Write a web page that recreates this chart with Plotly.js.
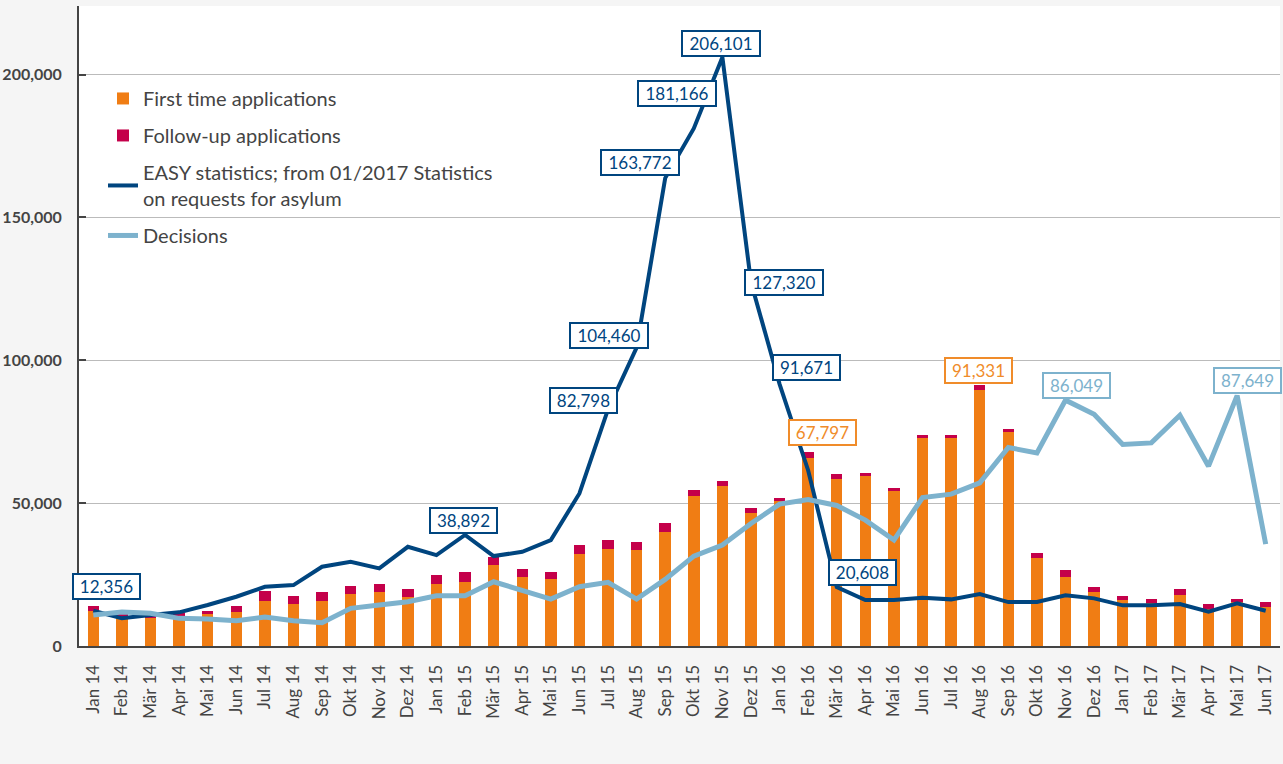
<!DOCTYPE html>
<html>
<head>
<meta charset="utf-8">
<script src="https://cdn.plot.ly/plotly-3.0.1.min.js"></script>
<style>
  html, body { margin: 0; padding: 0; background: #f5f5f5; }
  #chart { width: 1283px; height: 764px; }
</style>
</head>
<body>
<div id="chart"></div>
<script>
// ---- Data ----
const months = ["Jan 14","Feb 14","Mär 14","Apr 14","Mai 14","Jun 14","Jul 14","Aug 14","Sep 14","Okt 14","Nov 14","Dez 14",
  "Jan 15","Feb 15","Mär 15","Apr 15","Mai 15","Jun 15","Jul 15","Aug 15","Sep 15","Okt 15","Nov 15","Dez 15",
  "Jan 16","Feb 16","Mär 16","Apr 16","Mai 16","Jun 16","Jul 16","Aug 16","Sep 16","Okt 16","Nov 16","Dez 16",
  "Jan 17","Feb 17","Mär 17","Apr 17","Mai 17","Jun 17"];

const firstTime = [12300, 9900, 9800, 10250, 11080, 11780, 15840, 14690, 15840, 18180, 18770, 17130,
  21700, 22380, 28320, 24130, 23430, 32280, 34030, 33450, 39970, 52330, 55830, 46390,
  50580, 65900, 58390, 59440, 54200, 72970, 72970, 89600, 74830, 30660, 24230, 18990,
  16080, 15140, 17730, 13040, 15280, 13640];

const followUp = [1700, 1300, 1200, 1150, 1160, 2310, 3500, 2900, 2930, 2910, 2910, 2800,
  3000, 3490, 2900, 2900, 2440, 2920, 3030, 2910, 2930, 2330, 1750, 1750,
  1170, 1897, 1700, 1160, 1150, 1050, 1050, 1731, 1040, 1750, 2340, 1530,
  1510, 1400, 2310, 1650, 1260, 1750];

const easy = [12356, 9680, 10840, 11780, 14340, 17240, 20740, 21330, 27730, 29480, 27170, 34720,
  31820, 38892, 31470, 32970, 37060, 53390, 82798, 104460, 163772, 181166, 206101, 127320,
  91671, 61428, 20608, 16080, 16080, 16900, 16320, 18180, 15380, 15380, 17730, 16670,
  14220, 14220, 14690, 12000, 14920, 12350];

const decisions = [10840, 11890, 11430, 9680, 9440, 8850, 10140, 8850, 8150, 13180, 14340, 15490,
  17590, 17590, 22480, 19230, 16430, 20740, 22270, 16430, 23310, 31470, 35320, 42900,
  49650, 51280, 49180, 44060, 37060, 51980, 53150, 57100, 69470, 67590, 86049, 81120,
  70520, 71090, 80770, 62940, 87649, 35660];

// labelled points
const easyLabels = ["Jan 14","Feb 15","Jul 15","Aug 15","Sep 15","Okt 15","Nov 15","Dez 15","Jan 16","Mär 16"];
const totalLabels = ["Feb 16","Aug 16"];
const decisionLabels = ["Nov 16","Mai 17"];

// ---- Styles ----
const C_ORANGE = "#f07d14";
const C_RED = "#c4004a";
const C_DARK = "#00457f";
const C_LIGHT = "#7db2cd";
const C_LABEL_ORANGE = "#f08c2a";
const FONT = "Lato, 'Open Sans', sans-serif";

const traces = [
  { type: "bar", name: "First time applications", x: months, y: firstTime,
    marker: { color: C_ORANGE }, legendgroup: "a", hoverinfo: "skip" },
  { type: "bar", name: "Follow-up applications", x: months, y: followUp,
    marker: { color: C_RED }, legendgroup: "b", hoverinfo: "skip" },
  { type: "scatter", mode: "lines", name: "EASY statistics; from 01/2017 Statistics<br>on requests for asylum",
    x: months, y: easy, line: { color: C_DARK, width: 4 }, legendgroup: "c", hoverinfo: "skip" },
  { type: "scatter", mode: "lines", name: "Decisions", x: months, y: decisions,
    line: { color: C_LIGHT, width: 5 }, legendgroup: "d", hoverinfo: "skip" }
];

const fmt = v => Math.round(v).toLocaleString("en-US");

function makeLabel(month, value, color, off) {
  const txt = fmt(value);
  return {
    x: month, y: value, xref: "x", yref: "y",
    text: txt, showarrow: true, arrowcolor: "rgba(0,0,0,0)", arrowwidth: 0.1, arrowhead: 0,
    ax: off[0], ay: off[1],
    bgcolor: "#ffffff", bordercolor: color, borderwidth: 2, borderpad: 1,
    width: txt.length > 6 ? 74 : 63,
    font: { family: FONT, size: 17, color: color }
  };
}

// pixel offsets of label boxes from their points (styling only)
const easyOffsets = [[13,-24],[-2,-14],[-25,-9],[-28,-12],[-25,-16],[-17,-35],[-1,-14],[33,0],[27,-17],[26,-15]];
const totalOffsets = [[14,-20],[-1,-15]];
const decisionOffsets = [[11,-15],[10,-15]];

const annotations = [];
easyLabels.forEach((m, k) => {
  const i = months.indexOf(m);
  annotations.push(makeLabel(m, easy[i], C_DARK, easyOffsets[k]));
});
totalLabels.forEach((m, k) => {
  const i = months.indexOf(m);
  annotations.push(makeLabel(m, firstTime[i] + followUp[i], C_LABEL_ORANGE, totalOffsets[k]));
});
decisionLabels.forEach((m, k) => {
  const i = months.indexOf(m);
  annotations.push(makeLabel(m, decisions[i], C_LIGHT, decisionOffsets[k]));
});

const layout = {
  width: 1283, height: 764,
  paper_bgcolor: "#f5f5f5", plot_bgcolor: "#ffffff",
  margin: { l: 79, r: 3, t: 6, b: 118 },
  barmode: "stack", bargap: 0.6,
  showlegend: true,
  hovermode: false,
  font: { family: FONT, color: "#444" },
  legend: {
    x: 0.02, y: 0.886, xanchor: "left", yanchor: "top",
    bgcolor: "rgba(0,0,0,0)", traceorder: "grouped", tracegroupgap: 8,
    font: { family: FONT, size: 20, color: "#444" }
  },
  xaxis: {
    type: "category", range: [-0.5, 41.5], tickangle: -90,
    tickfont: { family: FONT, size: 17, color: "#444" },
    showgrid: false, showline: true, linecolor: "#444", linewidth: 2,
    ticks: "", ticklabelstandoff: 10, fixedrange: true
  },
  yaxis: {
    range: [0, 224000], tickvals: [0, 50000, 100000, 150000, 200000],
    tickformat: ",d", separatethousands: true,
    tickfont: { family: FONT, size: 16, color: "#444", weight: "bold" },
    showgrid: true, gridcolor: "#bbbbbb", gridwidth: 1,
    showline: true, linecolor: "#444", linewidth: 2,
    ticks: "inside", ticklen: 7, tickcolor: "#444", tickwidth: 2,
    ticklabelstandoff: 12, zeroline: false, fixedrange: true
  },
  annotations: annotations
};

Plotly.newPlot("chart", traces, layout, { displayModeBar: false, staticPlot: true });
</script>
</body>
</html>
